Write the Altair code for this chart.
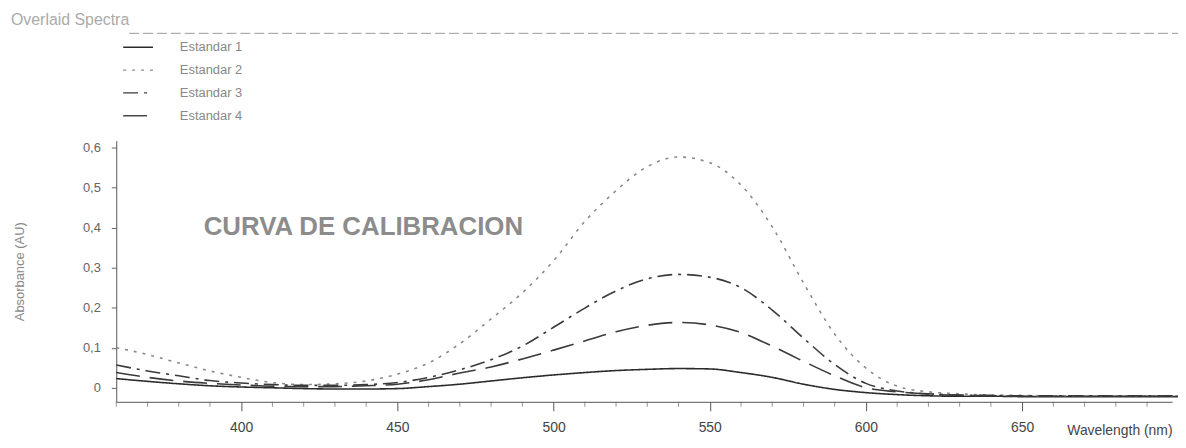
import altair as alt
import pandas as pd

wavelength = list(range(360, 701, 10))

estandar_1 = [0.023, 0.016, 0.010, 0.005, 0.002, 0.000, -0.002, -0.003, -0.003, -0.002,
              0.003, 0.009, 0.017, 0.025, 0.032, 0.038, 0.043, 0.046, 0.048, 0.047,
              0.038, 0.026, 0.009, -0.004, -0.012, -0.017, -0.020, -0.021, -0.021, -0.022,
              -0.022, -0.022, -0.022, -0.022, -0.022]
estandar_2 = [0.100, 0.083, 0.062, 0.042, 0.026, 0.013, 0.008, 0.010, 0.017, 0.034,
              0.062, 0.110, 0.172, 0.237, 0.317, 0.415, 0.492, 0.552, 0.576, 0.562,
              0.506, 0.402, 0.262, 0.134, 0.049, 0.004, -0.010, -0.015, -0.018, -0.019,
              -0.020, -0.020, -0.020, -0.020, -0.020]
estandar_3 = [0.057, 0.042, 0.030, 0.018, 0.012, 0.008, 0.006, 0.006, 0.008, 0.013,
              0.026, 0.045, 0.070, 0.104, 0.151, 0.199, 0.242, 0.272, 0.283, 0.276,
              0.250, 0.194, 0.124, 0.058, 0.011, -0.008, -0.015, -0.018, -0.019, -0.020,
              -0.020, -0.020, -0.020, -0.020, -0.020]
estandar_4 = [0.038, 0.026, 0.017, 0.011, 0.007, 0.004, 0.003, 0.003, 0.005, 0.009,
              0.020, 0.037, 0.052, 0.072, 0.094, 0.117, 0.140, 0.156, 0.163, 0.157,
              0.138, 0.104, 0.066, 0.030, 0.000, -0.010, -0.016, -0.019, -0.020, -0.021,
              -0.021, -0.021, -0.021, -0.021, -0.021]

series_names = ["Estandar 1", "Estandar 2", "Estandar 3", "Estandar 4"]
series_values = [estandar_1, estandar_2, estandar_3, estandar_4]
dash_styles = [[1, 0], [3, 6], [15, 6, 3, 6], [24, 10]]
line_colors = ["#2b2b2b", "#8a8a8a", "#3a3a3a", "#3a3a3a"]

y_ticks = [0, 0.1, 0.2, 0.3, 0.4, 0.5, 0.6]
x_major = [400, 450, 500, 550, 600, 650]
x_minor = [w for w in range(360, 701, 10) if w % 50 != 0]

rows = []
for name, vals in zip(series_names, series_values):
    for w, v in zip(wavelength, vals):
        rows.append({"wl": w, "abs": v, "serie": name})
df = pd.DataFrame(rows)

W, H = 1063, 263
FONT = "Liberation Sans"
XT = "Wavelength (nm)"
YT = "Absorbance (AU)"

xscale = alt.Scale(domain=[360, 698], nice=False, zero=False)
yscale = alt.Scale(domain=[-0.035, 0.617], nice=False, zero=False)

legend_def = alt.Legend(orient="none", legendX=6, legendY=-110,
                        title=None, symbolType="stroke", symbolSize=900,
                        symbolStrokeWidth=1.4,
                        labelFont=FONT, labelFontSize=13, labelColor="#888",
                        labelOffset=26, rowPadding=0)

lines = alt.Chart(df).mark_line(interpolate="monotone", strokeWidth=1.6).encode(
    x=alt.X("wl:Q", scale=xscale, title=XT,
            axis=alt.Axis(values=x_major, grid=False,
                          tickSize=9, labelPadding=10, labelFontSize=14, labelFont=FONT,
                          labelColor="#444", domainColor="#555", tickColor="#555",
                          titleX=W, titleY=29, titleAlign="right", titleBaseline="middle",
                          titleFont=FONT, titleFontSize=14, titleFontWeight="normal",
                          titleColor="#444")),
    y=alt.Y("abs:Q", scale=yscale, title=YT,
            axis=alt.Axis(values=y_ticks, grid=False,
                          labelExpr="datum.value == 0 ? '0' : replace(format(datum.value, '.1f'), '.', ',')",
                          tickSize=5, labelPadding=11, labelFontSize=13, labelFont=FONT,
                          labelColor="#666", domainColor="#555", tickColor="#666",
                          titleFont=FONT, titleFontSize=13, titleFontWeight="normal",
                          titleColor="#888", titlePadding=56)),
    strokeDash=alt.StrokeDash("serie:N", scale=alt.Scale(domain=series_names, range=dash_styles),
                              legend=legend_def),
    color=alt.Color("serie:N", scale=alt.Scale(domain=series_names, range=line_colors),
                    legend=legend_def),
)

minor = alt.Chart(pd.DataFrame({"wl": x_minor})).mark_tick(
    orient="vertical", size=5, thickness=1, color="#666"
).encode(
    x=alt.X("wl:Q", scale=xscale, title=XT),
    y=alt.value(H + 2.5),
)

annot = alt.Chart(pd.DataFrame({"wl": [388], "abs": [0.40], "t": ["CURVA DE CALIBRACION"]})).mark_text(
    align="left", baseline="middle", font=FONT, fontSize=26, fontWeight="bold", color="#8c8c8c"
).encode(x=alt.X("wl:Q", scale=xscale, title=XT), y=alt.Y("abs:Q", scale=yscale, title=YT), text="t:N")

title_txt = alt.Chart(pd.DataFrame({"t": ["Overlaid   Spectra"]})).mark_text(
    align="left", baseline="middle", font=FONT, fontSize=16, color="#aaa"
).encode(x=alt.value(-106), y=alt.value(-121), text="t:N")

top_rule = alt.Chart(pd.DataFrame({"k": [1]})).mark_rule(
    color="#999", strokeWidth=1, strokeDash=[10, 4]
).encode(x=alt.value(13), x2=alt.value(W + 6), y=alt.value(-108))

chart = alt.layer(lines, minor, annot, title_txt, top_rule).properties(
    width=W, height=H,
    padding={"left": 109, "top": 132, "right": 6, "bottom": 45},
    autosize=alt.AutoSizeParams(type="none"),
    view=alt.ViewBackground(stroke="transparent", strokeWidth=0),
).configure_view(strokeWidth=0, stroke="transparent").configure(background="white")

chart.save("out.html", embed_options={"renderer": "svg", "actions": False})
